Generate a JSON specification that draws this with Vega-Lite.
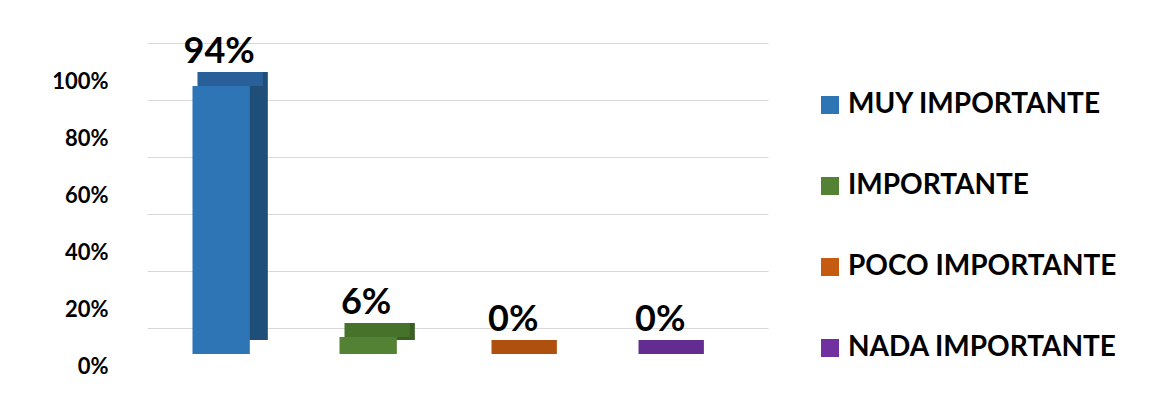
{
  "$schema": "https://vega.github.io/schema/vega-lite/v6.json",
  "width": 621,
  "height": 285,
  "autosize": {"type": "none"},
  "padding": {"left": 147, "top": 69, "right": 381, "bottom": 41},
  "background": "white",
  "config": {"view": {"stroke": null}, "font": "Lato"},
  "data": {
    "values": [
      {"categoria": "MUY IMPORTANTE", "porcentaje": 0.94},
      {"categoria": "IMPORTANTE", "porcentaje": 0.06},
      {"categoria": "POCO IMPORTANTE", "porcentaje": 0},
      {"categoria": "NADA IMPORTANTE", "porcentaje": 0}
    ]
  },
  "encoding": {
    "x": {
      "field": "categoria",
      "type": "nominal",
      "sort": ["MUY IMPORTANTE", "IMPORTANTE", "POCO IMPORTANTE", "NADA IMPORTANTE"],
      "scale": {"paddingInner": 0.61, "paddingOuter": 0.417, "align": 0.371},
      "axis": null
    }
  },
  "layer": [
    {
      "mark": {"type": "bar", "xOffset": 18, "yOffset": -14, "y2Offset": -14},
      "encoding": {
        "y": {
          "field": "porcentaje",
          "type": "quantitative",
          "scale": {"domain": [0, 1]},
          "axis": {
            "values": [0, 0.2, 0.4, 0.6, 0.8, 1],
            "format": ".0%",
            "title": null,
            "domain": false,
            "ticks": false,
            "tickSize": 0,
            "labelPadding": 39,
            "labelFontSize": 22,
            "labelFontWeight": "bold",
            "labelColor": "#000000",
            "labelFont": "Lato",
            "labelFlush": false,
            "labelOverlap": false,
            "gridColor": "#d9d9d9",
            "gridWidth": 1,
            "tickOffset": -26,
            "labelOffset": 38
          }
        },
        "y2": {"datum": 0},
        "color": {
          "field": "categoria",
          "type": "nominal",
          "scale": {
            "domain": ["MUY IMPORTANTE", "IMPORTANTE", "POCO IMPORTANTE", "NADA IMPORTANTE"],
            "range": ["#1f4e79", "#3b5e24", "#8f430d", "#4f2277"]
          },
          "legend": null
        }
      }
    },
    {
      "mark": {"type": "bar", "xOffset": 9, "yOffset": -14, "y2Offset": 0, "width": {"band": 1.14}},
      "encoding": {
        "y": {"field": "porcentaje", "type": "quantitative"},
        "y2": {"field": "porcentaje"},
        "color": {
          "field": "categoria",
          "type": "nominal",
          "scale": {
            "domain": ["MUY IMPORTANTE", "IMPORTANTE", "POCO IMPORTANTE", "NADA IMPORTANTE"],
            "range": ["#2a6099", "#467229", "#b0500f", "#632c90"]
          },
          "legend": null
        }
      }
    },
    {
      "mark": {"type": "bar"},
      "encoding": {
        "y": {"field": "porcentaje", "type": "quantitative"},
        "y2": {"datum": 0},
        "color": {
          "field": "categoria",
          "type": "nominal",
          "scale": {
            "domain": ["MUY IMPORTANTE", "IMPORTANTE", "POCO IMPORTANTE", "NADA IMPORTANTE"],
            "range": ["#2e75b6", "#548235", "#c55a11", "#7030a0"]
          },
          "legend": {
            "title": null,
            "orient": "none",
            "legendX": 669,
            "legendY": 22,
            "padding": 0,
            "symbolType": "square",
            "symbolSize": 324,
            "symbolStrokeWidth": 0,
            "labelFontSize": 28,
            "labelFontWeight": "bold",
            "labelColor": "#000000",
            "labelFont": "Lato",
            "labelOffset": 4,
            "rowPadding": 53,
            "labelLimit": 400
          }
        }
      }
    },
    {
      "mark": {"type": "text", "dy": -23, "dx": -2, "baseline": "alphabetic", "fontSize": 36, "fontWeight": "bold", "color": "#000000", "font": "Lato"},
      "encoding": {
        "y": {"field": "porcentaje", "type": "quantitative"},
        "text": {"field": "porcentaje", "type": "quantitative", "format": ".0%"}
      }
    }
  ],
  "resolve": {"scale": {"color": "independent"}}
}
